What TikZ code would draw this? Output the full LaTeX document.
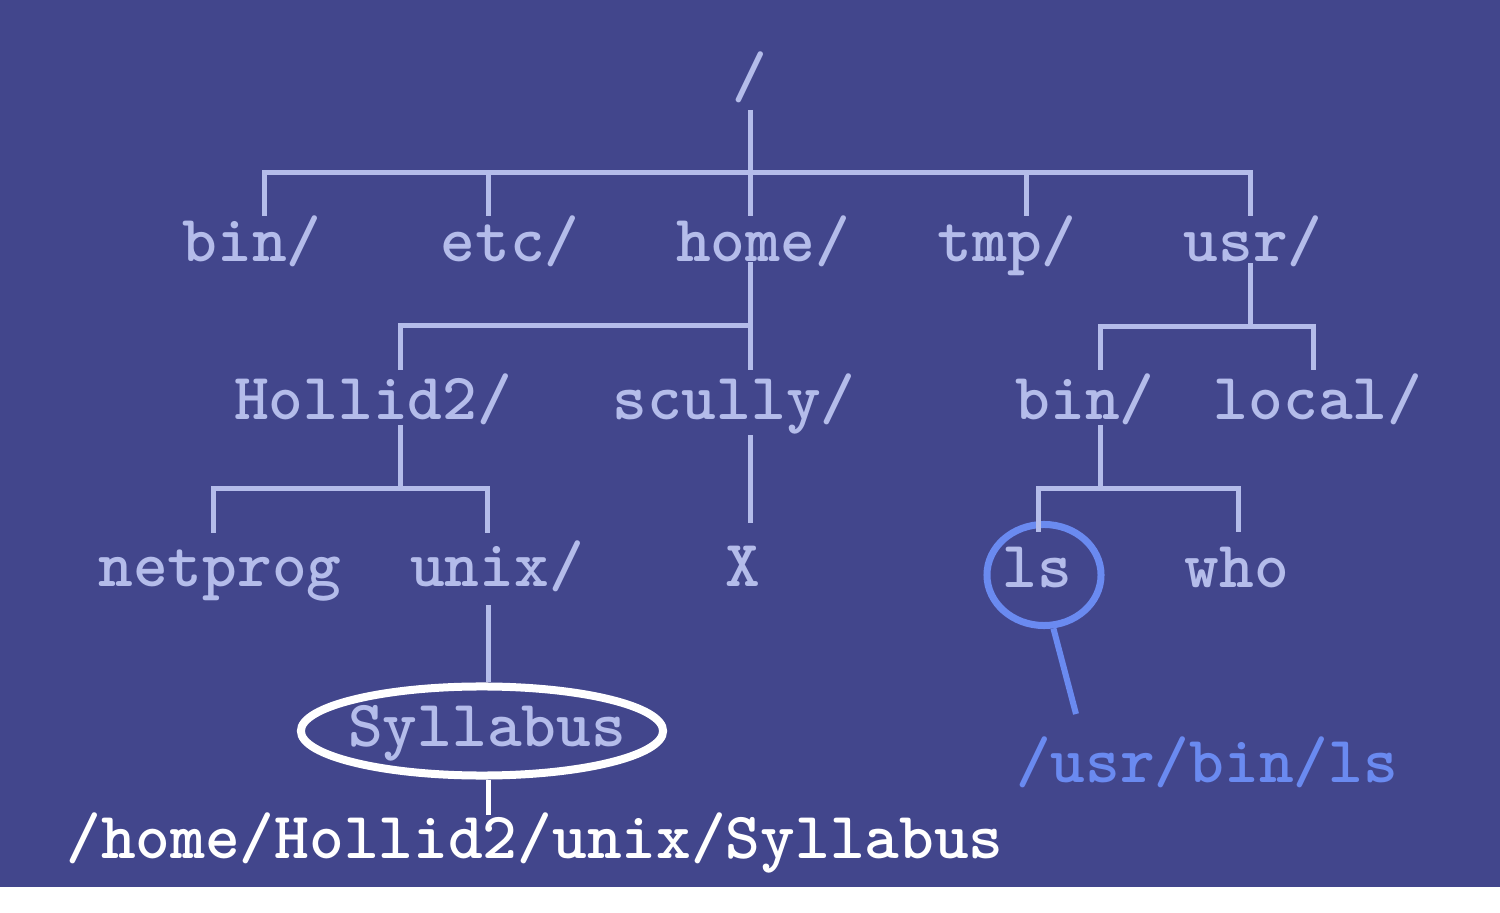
\documentclass[tikz,border=0pt]{standalone}
\usetikzlibrary{shapes.geometric}
\definecolor{slidebg}{RGB}{66,70,140}
\definecolor{treelav}{RGB}{180,188,234}
\definecolor{hiblue}{RGB}{106,138,240}

\begin{document}
\begin{tikzpicture}[x=0.01cm,y=-0.01cm,
  every node/.style={font=\ttfamily\bfseries\fontsize{18.8}{20}\selectfont,inner sep=0pt},
  dir/.style={anchor=base,text=treelav},
  edge/.style={treelav,line width=0.05cm}]
  \useasboundingbox (0,0) rectangle (1500,913);
  \fill[white] (0,0) rectangle (1500,913);
  \fill[slidebg] (0,0) rectangle (1500,887);
  % labels of the tree
  \node[dir] (root) at (750,98) {/};
  \node[dir] (bin) at (252,262) {bin/};
  \node[dir] (etc) at (510,262) {etc/};
  \node[dir] (home) at (763,262) {home/};
  \node[dir] (tmp) at (1007,262) {tmp/};
  \node[dir] (usr) at (1253,262) {usr/};
  \node[dir] (hollid) at (373,420) {Hollid2/};
  \node[dir] (scully) at (734,420) {scully/};
  \node[dir] (ubin) at (1085,420) {bin/};
  \node[dir] (local) at (1318,420) {local/};
  \node[dir] (netprog) at (220,587) {netprog};
  \node[dir] (unix) at (497,587) {unix/};
  \node[dir] (xdir) at (743,587) {X};
  \node[dir] (ls) at (1037,588) {ls};
  \node[dir] (who) at (1237,588) {who};
  \node[dir] (syl) at (487,746) {Syllabus};
  \node[ellipse,draw=white,line width=0.08cm,minimum width=3.62cm,
    minimum height=0.89cm] (sylring) at (482,731) {};
  \node[ellipse,draw=hiblue,line width=0.07cm,minimum width=1.14cm,
    minimum height=1.01cm] (lsring) at (1044,575) {};
  \node[anchor=base,text=white] (fullpath) at (535,858) {/home/Hollid2/unix/Syllabus};
  \node[anchor=base,text=hiblue] (lspath) at (1207,782) {/usr/bin/ls};
  % ends of the connectors
  \coordinate (root-out) at (750,110);  \coordinate (root-fork) at (750,173);
  \coordinate (bin-in) at (264,216);    \coordinate (etc-in) at (488,216);
  \coordinate (home-in) at (750,216);   \coordinate (tmp-in) at (1026,216);
  \coordinate (usr-in) at (1250,216);
  \coordinate (home-out) at (750,262);  \coordinate (home-fork) at (750,326);
  \coordinate (hollid-in) at (400,370); \coordinate (scully-in) at (750,370);
  \coordinate (usr-out) at (1250,263);  \coordinate (usr-fork) at (1250,327);
  \coordinate (ubin-in) at (1100,370);  \coordinate (local-in) at (1313,370);
  \coordinate (hollid-out) at (400,425); \coordinate (hollid-fork) at (400,489);
  \coordinate (netprog-in) at (213,533); \coordinate (unix-in) at (487,533);
  \coordinate (scully-out) at (750,435); \coordinate (xdir-in) at (750,523);
  \coordinate (ubin-out) at (1100,425); \coordinate (ubin-fork) at (1100,489);
  \coordinate (ls-in) at (1038,532);    \coordinate (who-in) at (1238,532);
  \coordinate (unix-out) at (488,605);  \coordinate (fullpath-in) at (488,815);
  \coordinate (lspath-in) at (1076,714);
  % tree
  \draw[edge] (root-out) -- (root-fork);
  \draw[edge] (bin-in) |- (root-fork) -| (usr-in);
  \foreach \c in {etc,home,tmp}
    \draw[edge] (\c-in) -- (\c-in |- root-fork);
  \draw[edge] (home-out) -- (home-fork);
  \draw[edge] (hollid-in) |- (home-fork) -- (scully-in);
  \draw[edge] (usr-out) -- (usr-fork);
  \draw[edge] (ubin-in) |- (usr-fork) -| (local-in);
  \draw[edge] (hollid-out) -- (hollid-fork);
  \draw[edge] (netprog-in) |- (hollid-fork) -| (unix-in);
  \draw[edge] (scully-out) -- (xdir-in);
  \draw[edge] (ubin-out) -- (ubin-fork);
  \draw[edge] (ls-in) |- (ubin-fork) -| (who-in);
  \draw[edge] (unix-out) -- (unix-out |- sylring.north);
  \draw[edge,white] (sylring.south -| fullpath-in) -- (fullpath-in);
  \draw[hiblue,line width=0.06cm] (lsring.-80) -- (lspath-in);
\end{tikzpicture}
\end{document}
